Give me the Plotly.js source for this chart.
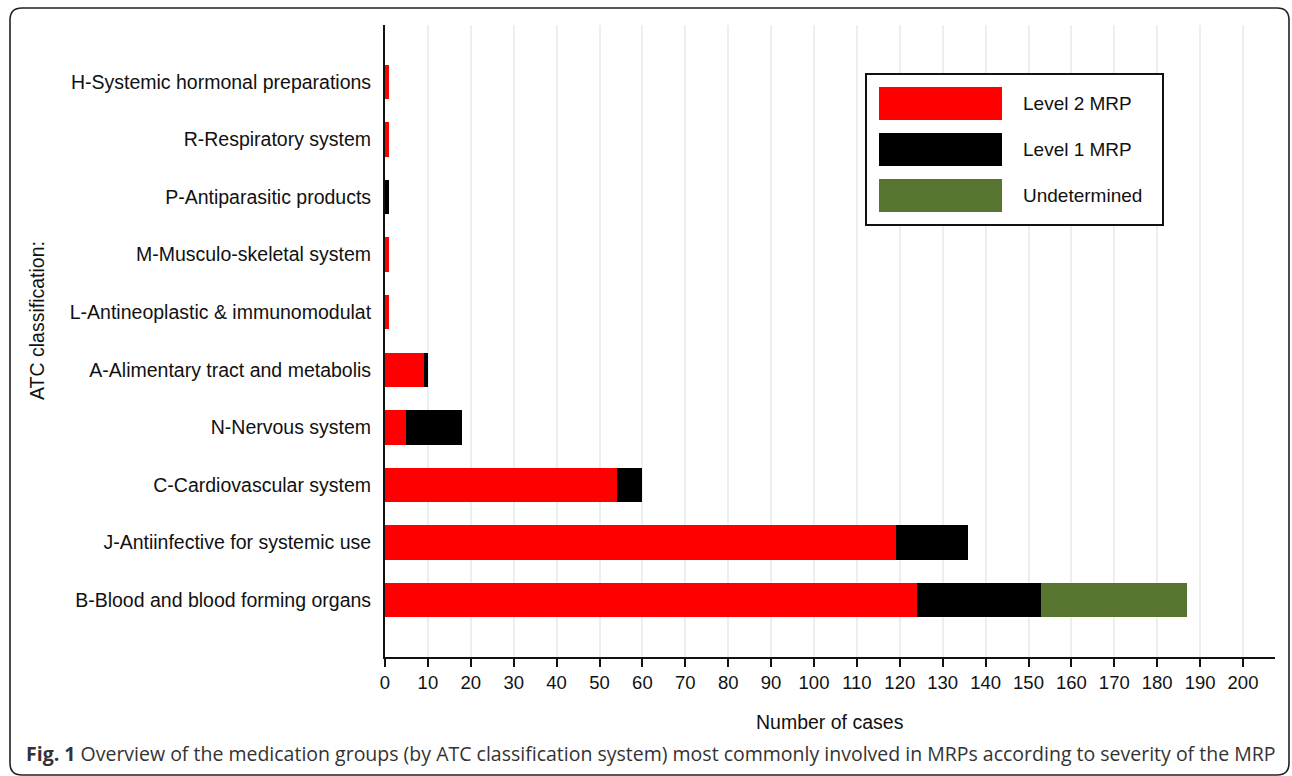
<!DOCTYPE html>
<html>
<head>
<meta charset="utf-8">
<script src="https://cdn.plot.ly/plotly-3.0.1.min.js"></script>
<style>html,body{margin:0;padding:0;background:#fff;}#chart{width:1292px;height:776px;}</style>
</head>
<body>
<div id="chart"></div>
<script>
// Data (bottom to top)
const categories = [
  "B-Blood and blood forming organs",
  "J-Antiinfective for systemic use",
  "C-Cardiovascular system",
  "N-Nervous system",
  "A-Alimentary tract and metabolis",
  "L-Antineoplastic & immunomodulat",
  "M-Musculo-skeletal system",
  "P-Antiparasitic products",
  "R-Respiratory system",
  "H-Systemic hormonal preparations"
];
const level2 = [124, 119, 54, 5, 9, 1, 1, 0, 1, 1];
const level1 = [29, 17, 6, 13, 1, 0, 0, 1, 0, 0];
const undetermined = [34, 0, 0, 0, 0, 0, 0, 0, 0, 0];
const seriesNames = ["Level 2 MRP", "Level 1 MRP", "Undetermined"];
const seriesColors = ["#ff0000", "#000000", "#58752f"];
const xTickVals = [0,10,20,30,40,50,60,70,80,90,100,110,120,130,140,150,160,170,180,190,200];

const W = 1292, H = 776;
const L = 385, R = 17, T = 25, B = 119;
const PW = W - L - R, PH = H - T - B;
const px = x => (x - L) / PW;
const py = y => (H - B - y) / PH;

const font = "Arial";
const seriesData = [level2, level1, undetermined];
const traces = seriesData.map((vals, i) => ({
  type: "bar", orientation: "h", y: categories, x: vals, name: seriesNames[i],
  marker: {color: seriesColors[i], line: {width: 0}}, width: 0.6, showlegend: false,
  hoverinfo: "x+name"
}));

// rounded frame path
function roundRect(x0, y0, x1, y1, r) {
  const X = v => px(v).toFixed(5), Y = v => py(v).toFixed(5);
  return `M${X(x0+r)},${Y(y0)} L${X(x1-r)},${Y(y0)} Q${X(x1)},${Y(y0)} ${X(x1)},${Y(y0+r)} ` +
    `L${X(x1)},${Y(y1-r)} Q${X(x1)},${Y(y1)} ${X(x1-r)},${Y(y1)} L${X(x0+r)},${Y(y1)} ` +
    `Q${X(x0)},${Y(y1)} ${X(x0)},${Y(y1-r)} L${X(x0)},${Y(y0+r)} Q${X(x0)},${Y(y0)} ${X(x0+r)},${Y(y0)} Z`;
}

const shapes = [
  {type: "path", xref: "paper", yref: "paper", path: roundRect(10, 8, 1289, 775, 12),
   line: {color: "#222", width: 1.6}, fillcolor: "rgba(0,0,0,0)", layer: "below"},
  {type: "rect", xref: "paper", yref: "paper", x0: px(866), x1: px(1163), y0: py(74), y1: py(225),
   line: {color: "#111", width: 2}, fillcolor: "#ffffff", layer: "above"}
];
const annotations = [];
const swatchTops = [87, 133, 179];
seriesNames.forEach((n, i) => {
  const t = swatchTops[i];
  shapes.push({type: "rect", xref: "paper", yref: "paper", x0: px(879), x1: px(1002),
    y0: py(t), y1: py(t + 33), line: {width: 0}, fillcolor: seriesColors[i], layer: "above"});
  annotations.push({xref: "paper", yref: "paper", x: px(1021), y: py(t + 16.5), xanchor: "left",
    yanchor: "middle", text: n, showarrow: false, font: {family: font, size: 19, color: "#111"}});
});
annotations.push({xref: "paper", yref: "paper", x: px(829.5), y: py(722), xanchor: "center",
  yanchor: "middle", text: "Number of cases", showarrow: false, font: {family: font, size: 19.5, color: "#111"}});
annotations.push({xref: "paper", yref: "paper", x: px(37), y: py(321), xanchor: "center",
  yanchor: "middle", textangle: -90, text: "ATC classification:", showarrow: false,
  font: {family: font, size: 19.5, color: "#111"}});
annotations.push({xref: "paper", yref: "paper", x: px(24), y: py(753), xanchor: "left",
  yanchor: "middle", showarrow: false,
  text: "<b>Fig. 1</b> Overview of the medication groups (by ATC classification system) most commonly involved in MRPs according to severity of the MRP",
  font: {family: "Open Sans", size: 19.5, color: "#333"}});

const layout = {
  width: W, height: H, margin: {l: L, r: R, t: T, b: B, pad: 0},
  paper_bgcolor: "#fff", plot_bgcolor: "#fff", barmode: "stack", showlegend: false,
  font: {family: font, size: 18, color: "#111"},
  xaxis: {range: [0, PW / 4.29], tickvals: xTickVals, ticktext: xTickVals.map(String),
    showgrid: true, gridcolor: "#e8f0f3", gridwidth: 2, zeroline: false,
    showline: true, linecolor: "#111", linewidth: 2, ticks: "outside", ticklen: 8,
    tickwidth: 2, tickcolor: "#111", tickfont: {family: font, size: 18.5, color: "#111"}},
  yaxis: {type: "category", range: [-0.99, 9.99], showgrid: false, zeroline: false,
    showline: true, linecolor: "#111", linewidth: 2, ticks: "outside", ticklen: 8,
    tickcolor: "rgba(0,0,0,0)", tickfont: {family: font, size: 19.5, color: "#111"}},
  shapes: shapes, annotations: annotations
};
Plotly.newPlot("chart", traces, layout, {displayModeBar: false, staticPlot: true});
</script>
</body>
</html>
